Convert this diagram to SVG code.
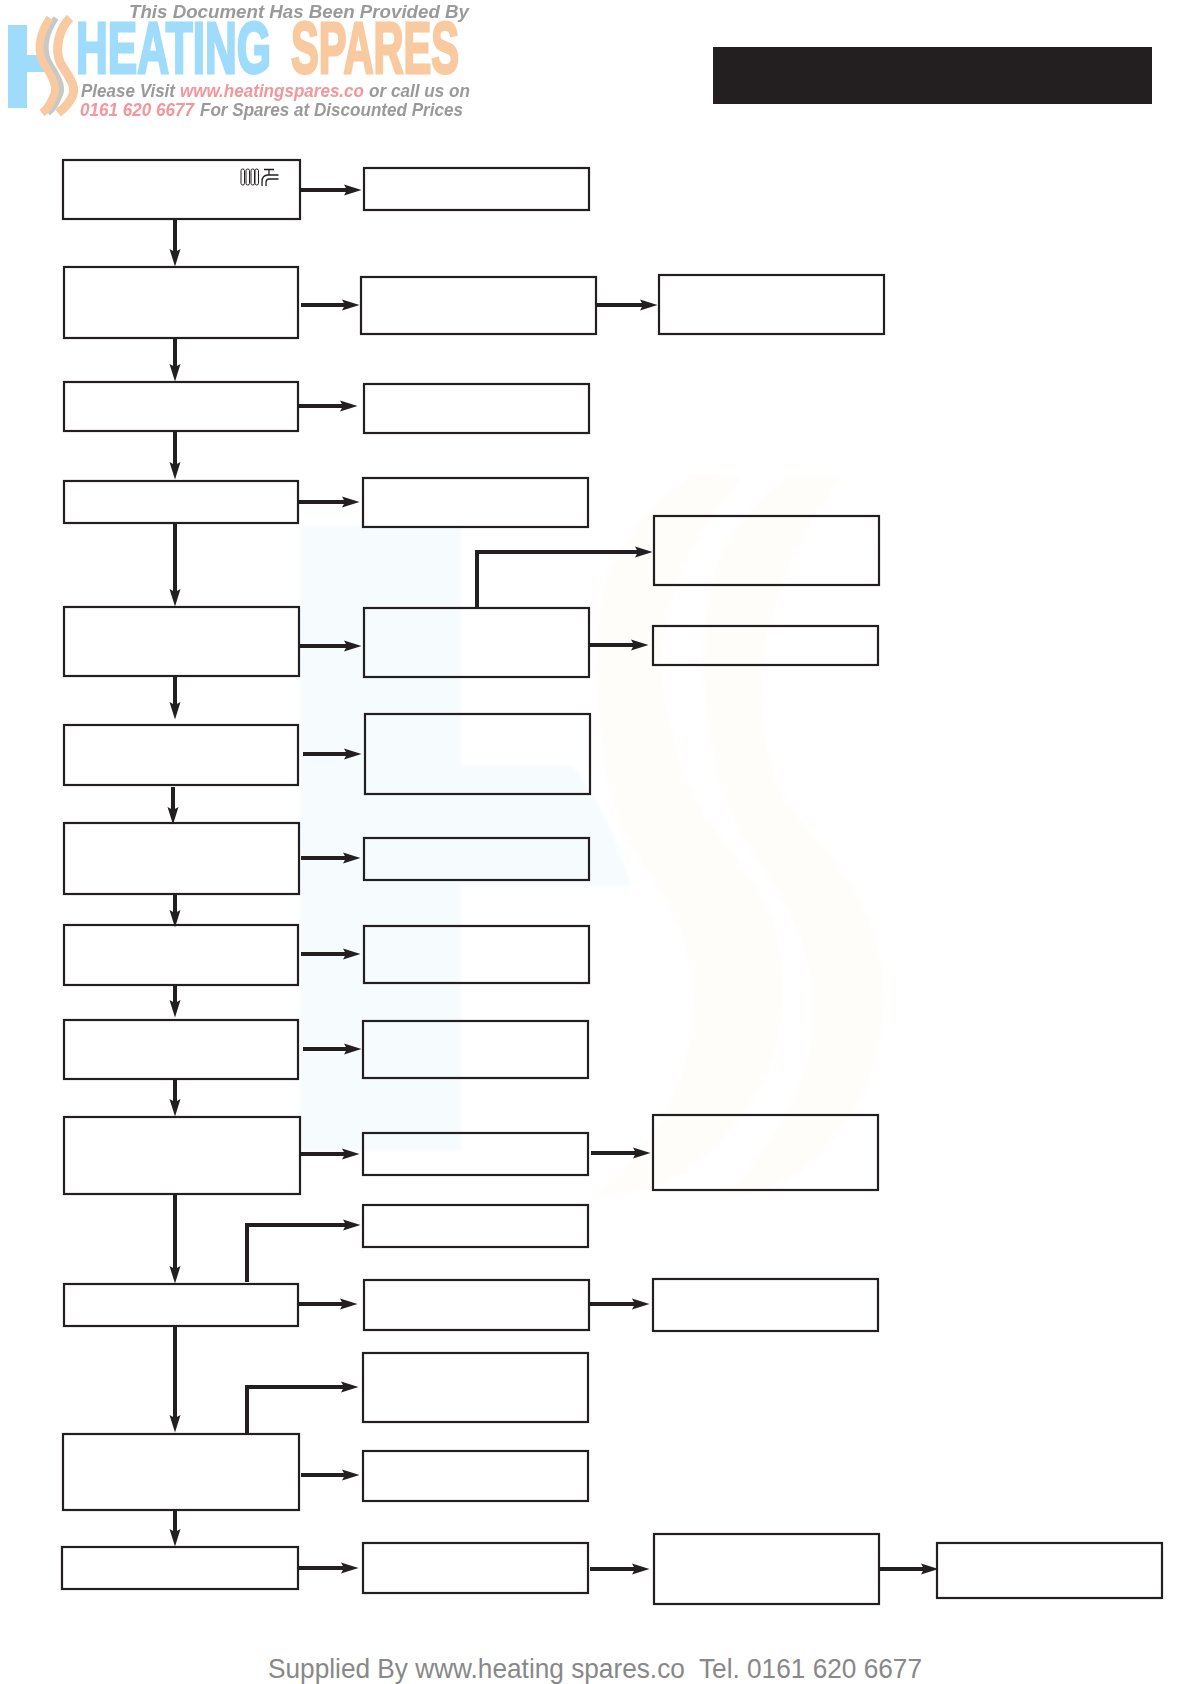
<svg xmlns="http://www.w3.org/2000/svg" width="1191" height="1684" viewBox="0 0 1191 1684">
<style>
.n{fill:none;stroke:#231f20;stroke-width:2.200}
.c{fill:none;stroke:#231f20;stroke-width:4;marker-end:url(#a)}
.sans{font-family:"Liberation Sans",Arial,sans-serif}
.bi{font-family:"Liberation Sans",Arial,sans-serif;font-weight:700;font-style:italic;font-size:17.500px}
.g{fill:#9a9a9a}.r{fill:#f4969b}
.big{font-family:"Liberation Sans",Arial,sans-serif;font-weight:700;font-size:73px;stroke-width:3}
</style>
<defs>
<marker id="a" markerUnits="userSpaceOnUse" markerWidth="18" markerHeight="12" viewBox="0 0 18 12" refX="9" refY="6" orient="auto">
<path d="M0 .5L17.500 6L0 11.500L3 6Z" fill="#231f20"/>
</marker>
<filter id="soft" x="-5%" y="-5%" width="110%" height="110%"><feGaussianBlur stdDeviation="0.6"/></filter>
<filter id="wm" x="-5%" y="-5%" width="110%" height="110%"><feGaussianBlur stdDeviation="2"/></filter>
</defs>
<rect width="1191" height="1684" fill="#fff"/>

<g id="watermark" filter="url(#wm)">
<path d="M300 526H461V765H572C600 800 618 845 632 886H461V1151H300Z" fill="#f6fbfe"/>
<path d="M693 475C640 510 603 560 600 610C590 680 600 780 625 835C650 880 690 920 693 993C695 1060 670 1130 597 1197C660 1195 720 1165 767 1075C790 1020 785 960 773 920C750 860 700 830 680 760C660 700 655 640 680 580C695 535 720 505 743 477Z" fill="#fffdf9"/>
<path d="M787 477C745 510 718 545 710 590C695 660 705 770 743 838C770 880 810 930 813 1003C815 1060 790 1130 723 1197C785 1195 830 1155 860 1100C885 1050 890 985 875 935C850 860 800 830 780 790C760 740 755 670 772 620C785 565 815 510 843 477Z" fill="#fffdf9"/>
</g>

<g id="logo" filter="url(#soft)">
<path d="M8 25H27V55H48V72H27V108H8Z" fill="#9fdcfb"/>
<path d="M56 18C46 32 43 48 48 60C54 72 66 85 59 97C56 105 52 110 48 113" fill="none" stroke="#c8c8c8" stroke-width="6"/>
<path d="M50 18C40 32 37 48 42 60C48 72 60 85 53 97C50 105 46 110 42 113" fill="none" stroke="#f9c9a0" stroke-width="8"/>
<path d="M70 18C58 30 55 50 60 62C66 74 78 85 72 97C68 105 62 110 58 113" fill="none" stroke="#f9c9a0" stroke-width="9"/>
<text class="big" x="76" y="73" fill="#9fdcfb" stroke="#9fdcfb" textLength="195" lengthAdjust="spacingAndGlyphs">HEATING</text>
<text class="big" x="291" y="73" fill="#f9c9a0" stroke="#f9c9a0" textLength="168" lengthAdjust="spacingAndGlyphs">SPARES</text>
<text class="bi g" x="129" y="18" textLength="340" lengthAdjust="spacingAndGlyphs">This Document Has Been Provided By</text>
<text class="bi g" x="81" y="97" textLength="94" lengthAdjust="spacingAndGlyphs">Please Visit</text>
<text class="bi r" x="180" y="97" textLength="184" lengthAdjust="spacingAndGlyphs">www.heatingspares.co</text>
<text class="bi g" x="369" y="97" textLength="101" lengthAdjust="spacingAndGlyphs">or call us on</text>
<text class="bi r" x="80" y="116" textLength="114" lengthAdjust="spacingAndGlyphs">0161 620 6677</text>
<text class="bi g" x="200" y="116" textLength="263" lengthAdjust="spacingAndGlyphs">For Spares at Discounted Prices</text>
</g>

<g id="header"><rect x="713" y="47" width="439" height="57" fill="#231f20"/></g>

<g id="connectors">
<path class="c" d="M300 190H353"/>
<path class="c" d="M175 219V258"/>
<path class="c" d="M301 305H351"/>
<path class="c" d="M596 305H649"/>
<path class="c" d="M175 338V373"/>
<path class="c" d="M298 406H349"/>
<path class="c" d="M175 431V471"/>
<path class="c" d="M298 502H351"/>
<path class="c" d="M175 523V598"/>
<path class="c" d="M299 646H353"/>
<path class="c" d="M477 607V552H644"/>
<path class="c" d="M589 645H640"/>
<path class="c" d="M175 676V711"/>
<path class="c" d="M303 754H353"/>
<path class="c" d="M173 787V816"/>
<path class="c" d="M301 858H352"/>
<path class="c" d="M175 894V919"/>
<path class="c" d="M301 954H352"/>
<path class="c" d="M175 985V1009"/>
<path class="c" d="M303 1049H353"/>
<path class="c" d="M175 1079V1108"/>
<path class="c" d="M300 1154H351"/>
<path class="c" d="M591 1153H642"/>
<path class="c" d="M175 1194V1275"/>
<path class="c" d="M247 1282V1225H352"/>
<path class="c" d="M298 1304H349"/>
<path class="c" d="M589 1304H641"/>
<path class="c" d="M175 1326V1424"/>
<path class="c" d="M247 1434V1387H350"/>
<path class="c" d="M301 1475H351"/>
<path class="c" d="M175 1510V1538"/>
<path class="c" d="M298 1568H350"/>
<path class="c" d="M590 1569H641"/>
<path class="c" d="M879 1569H930"/>
</g>

<g id="b1"><rect class="n" x="63" y="160" width="237" height="59"/>
<g fill="none" stroke="#231f20" stroke-width="1"><rect x="241" y="169" width="3.500" height="16" rx="1.700"/><rect x="246" y="169" width="3.500" height="16" rx="1.700"/><rect x="251" y="169" width="3.500" height="16" rx="1.700"/><rect x="255" y="169" width="3.500" height="16" rx="1.700"/><path d="M264 169.500H274M269 169.500V175" stroke-width="1.300"/><path d="M278.500 175H268C264 175 262 178 262 182V186M278.500 179H269C267 179 266 181 266 183V186" stroke-width="1.300"/></g></g>
<g id="r1"><rect class="n" x="364" y="168" width="225" height="42"/></g>
<g id="b2"><rect class="n" x="64" y="267" width="234" height="71"/></g>
<g id="r2"><rect class="n" x="361" y="277" width="235" height="57"/></g>
<g id="t2"><rect class="n" x="659" y="275" width="225" height="59"/></g>
<g id="b3"><rect class="n" x="64" y="382" width="234" height="49"/></g>
<g id="r3"><rect class="n" x="364" y="384" width="225" height="49"/></g>
<g id="b4"><rect class="n" x="64" y="481" width="234" height="42"/></g>
<g id="r4"><rect class="n" x="363" y="478" width="225" height="49"/></g>
<g id="t5"><rect class="n" x="654" y="516" width="225" height="69"/></g>
<g id="b5"><rect class="n" x="64" y="607" width="235" height="69"/></g>
<g id="r5"><rect class="n" x="364" y="608" width="225" height="69"/></g>
<g id="t5b"><rect class="n" x="653" y="626" width="225" height="39"/></g>
<g id="b6"><rect class="n" x="64" y="725" width="234" height="60"/></g>
<g id="r6"><rect class="n" x="365" y="714" width="225" height="80"/></g>
<g id="b7"><rect class="n" x="64" y="823" width="235" height="71"/></g>
<g id="r7"><rect class="n" x="364" y="838" width="225" height="42"/></g>
<g id="b8"><rect class="n" x="64" y="925" width="234" height="60"/></g>
<g id="r8"><rect class="n" x="364" y="926" width="225" height="57"/></g>
<g id="b9"><rect class="n" x="64" y="1020" width="234" height="59"/></g>
<g id="r9"><rect class="n" x="363" y="1021" width="225" height="57"/></g>
<g id="b10"><rect class="n" x="64" y="1117" width="236" height="77"/></g>
<g id="r10"><rect class="n" x="363" y="1133" width="225" height="42"/></g>
<g id="t10"><rect class="n" x="653" y="1115" width="225" height="75"/></g>
<g id="r11"><rect class="n" x="363" y="1205" width="225" height="42"/></g>
<g id="b11"><rect class="n" x="64" y="1284" width="234" height="42"/></g>
<g id="r12"><rect class="n" x="364" y="1280" width="225" height="50"/></g>
<g id="t12"><rect class="n" x="653" y="1279" width="225" height="52"/></g>
<g id="r13"><rect class="n" x="363" y="1353" width="225" height="69"/></g>
<g id="b12"><rect class="n" x="63" y="1434" width="236" height="76"/></g>
<g id="r14"><rect class="n" x="363" y="1451" width="225" height="50"/></g>
<g id="b13"><rect class="n" x="62" y="1547" width="236" height="42"/></g>
<g id="r15"><rect class="n" x="363" y="1543" width="225" height="50"/></g>
<g id="t15"><rect class="n" x="654" y="1534" width="225" height="70"/></g>
<g id="f"><rect class="n" x="937" y="1543" width="225" height="55"/></g>

<text class="sans" x="268" y="1678" font-size="28" fill="#888" textLength="654" lengthAdjust="spacingAndGlyphs" xml:space="preserve">Supplied By www.heating spares.co  Tel. 0161 620 6677</text>
</svg>
